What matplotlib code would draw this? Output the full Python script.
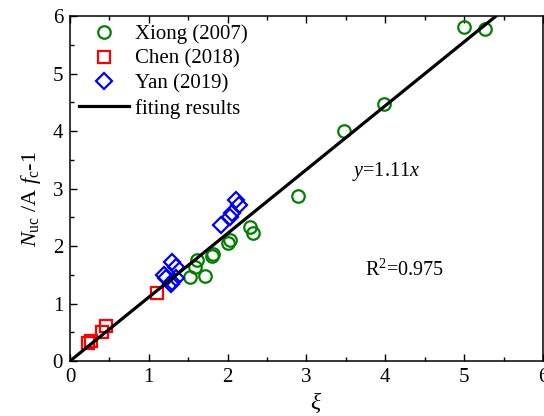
"""
Axial load ratio vs confinement factor, with linear fit
"""
import numpy as np
import matplotlib
matplotlib.use('Agg')
import matplotlib.pyplot as plt

plt.rcParams['font.family'] = ['Liberation Serif', 'DejaVu Serif']
plt.rcParams['mathtext.fontset'] = 'custom'
plt.rcParams['mathtext.rm'] = 'Liberation Serif'
plt.rcParams['mathtext.it'] = 'Liberation Serif:italic'

xiong_x = [5.00, 5.27, 3.99, 3.47, 2.89, 2.28, 2.32, 2.03, 2.00, 1.82, 1.80,
           1.61, 1.58, 1.52, 1.71]
xiong_y = [5.81, 5.77, 4.47, 4.00, 2.87, 2.33, 2.23, 2.10, 2.05, 1.86, 1.83,
           1.76, 1.63, 1.46, 1.47]
chen_x = [0.23, 0.26, 0.41, 0.46, 1.10]
chen_y = [0.31, 0.35, 0.50, 0.61, 1.18]
yan_x = [2.11, 2.14, 2.06, 2.03, 1.91, 1.30, 1.35, 1.19, 1.22, 1.30, 1.28, 1.35]
yan_y = [2.80, 2.71, 2.57, 2.50, 2.36, 1.72, 1.63, 1.49, 1.44, 1.37, 1.34, 1.45]
fit_slope = 1.11

fig = plt.figure(figsize=(5.44, 4.16), dpi=100)
ax = fig.add_axes([0.1287, 0.1322, 0.8693, 0.8293])

ms = 9
mew = 1.6
ax.plot(xiong_x, xiong_y, 'o', ms=ms, mfc='none', mec='#008000', mew=mew,
        label='Xiong (2007)')
ax.plot(chen_x, chen_y, 's', ms=ms, mfc='none', mec='red', mew=mew,
        label='Chen (2018)')
ax.plot(yan_x, yan_y, 'D', ms=ms - 1, mfc='none', mec='blue', mew=mew,
        label='Yan (2019)')
fit_x = np.array([0, 6])
ax.plot(fit_x, fit_slope * fit_x, '-', color='black', lw=2.3,
        label='fiting results')

ax.set_xlim(0, 6)
ax.set_ylim(0, 6)
ax.set_xticks(range(7))
ax.set_yticks(range(7))
ax.set_xticks(np.arange(0.5, 6, 1), minor=True)
ax.set_yticks(np.arange(0.5, 6, 1), minor=True)
ax.tick_params(which='both', direction='in', top=True, right=False,
               labelsize=15, width=1, pad=5)
ax.tick_params(which='major', length=5)
ax.tick_params(which='minor', length=3)
for s in ax.spines.values():
    s.set_linewidth(1.1)

ax.set_xlabel(r'$\xi$', fontsize=17)
ax.xaxis.set_label_coords(0.52, -0.085)
ax.set_ylabel(r'$N_{\mathrm{uc}}\ /\mathrm{A}\ f_{\mathrm{c}}$-1', fontsize=16)
ax.yaxis.set_label_coords(-0.058, 0.47)

ax.text(4.01, 3.29, r'$y$=1.11$x$', fontsize=14.5, ha='center', va='center')
ax.text(4.24, 1.58, r'R$^2$=0.975', fontsize=14.5, ha='center', va='center')

ax.legend(loc='upper left', frameon=False, fontsize=15, handlelength=2.4,
          handletextpad=0.25, labelspacing=0.25, borderaxespad=0.0,
          bbox_to_anchor=(0.002, 1.0))

fig.savefig('out.png', dpi=100)
plt.close(fig)
